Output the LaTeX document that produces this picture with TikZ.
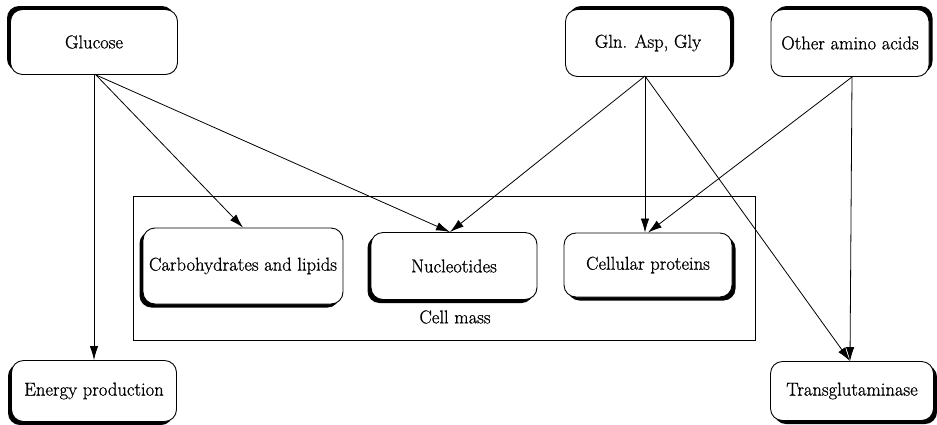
\documentclass[tikz,border=0pt]{standalone}
\usepackage{fontspec}
\setmainfont{Latin Modern Roman}[FakeBold=0.8]
\usetikzlibrary{shadows,arrows.meta}
\begin{document}
\begin{tikzpicture}[x=1pt,y=-1pt,
  lbl/.style={font=\fontsize{18.6}{20}\selectfont, inner sep=0pt},
  box/.style={lbl, draw=black, line width=0.9pt, rounded corners=12pt, fill=white},
  shUL/.style={drop shadow={shadow xshift=-3.5pt, shadow yshift=3.5pt, fill=black, opacity=1}},
  shUR/.style={drop shadow={shadow xshift=3.5pt, shadow yshift=3.5pt, fill=black, opacity=1}},
  shDL/.style={drop shadow={shadow xshift=-3.5pt, shadow yshift=-3.5pt, fill=black, opacity=1}},
  shDR/.style={drop shadow={shadow xshift=3.5pt, shadow yshift=-3.5pt, fill=black, opacity=1}},
  arr/.style={-{Latex[length=14pt,width=8.5pt]}, line width=0.8pt},
  frame/.style={draw=black, line width=0.8pt}
]
\useasboundingbox (0,0) rectangle (937,424);
\fill[white] (0,0) rectangle (937,424);

% cell mass frame
\draw[frame] (133,196) rectangle (755,340);
\node[lbl] (cm) at (455,317) {Cell mass};

% top boxes
\node[box, shUL, minimum width=167pt, minimum height=65pt] (glu) at (94,42) {Glucose};
\node[box, shUR, minimum width=165pt, minimum height=67pt] (gln) at (648,43) {Gln. Asp, Gly};
\node[box, shUR, minimum width=158pt, minimum height=67pt] (oaa) at (850,43) {Other amino acids};

% cell mass boxes
\node[box, shDL, minimum width=200pt, minimum height=76pt] (carb) at (243,266) {Carbohydrates and lipids};
\node[box, shDL, minimum width=166pt, minimum height=67pt] (nuc) at (454,266) {Nucleotides};
\node[box, shDR, minimum width=168pt, minimum height=64pt] (cp) at (648,265) {Cellular proteins};

% bottom boxes
\node[box, shDL, minimum width=165pt, minimum height=61pt] (ep) at (94,391) {Energy production};
\node[box, shDR, minimum width=163pt, minimum height=59pt] (tg) at (852,391) {Transglutaminase};

% connectors
\coordinate (gluS) at (96,75);
\coordinate (gluV) at (94,75);
\coordinate (glnS) at (645,76);
\coordinate (oaaS) at (852,77);
\draw[arr] (gluV) -- (ep.north -| gluV);
\draw[arr] (gluS) -- (carb.north);
\draw[arr] (gluS) -- ([xshift=-4pt]nuc.north);
\draw[arr] (glnS) -- ([xshift=-4pt]nuc.north);
\draw[arr] (glnS) -- (cp.north -| glnS);
\draw[arr] (glnS) -- ([xshift=-2pt]tg.north);
\draw[arr] (oaaS) -- (cp.north);
\draw[arr] (oaaS) -- ([xshift=-2pt]tg.north);
\end{tikzpicture}
\end{document}
